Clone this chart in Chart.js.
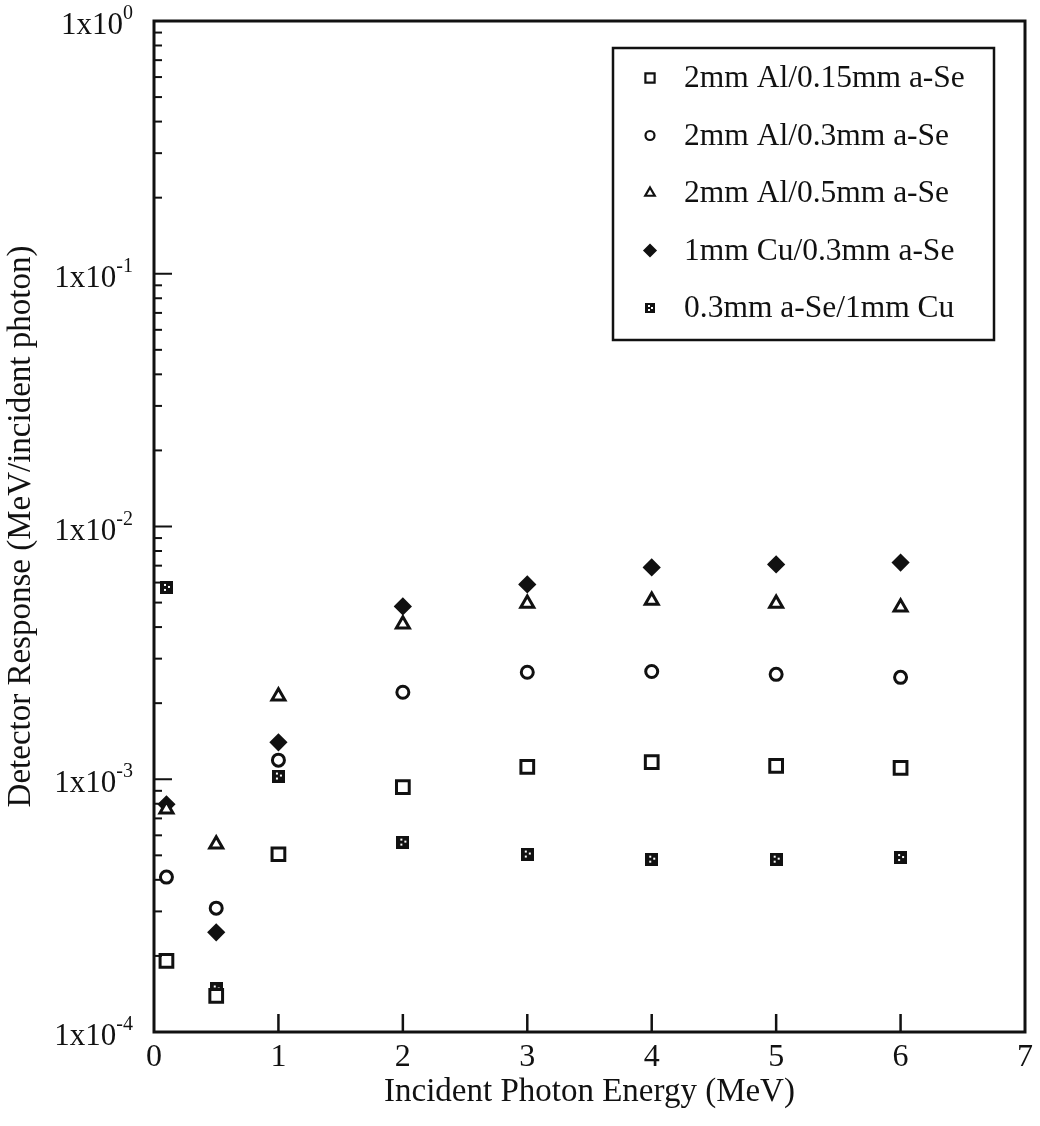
<!DOCTYPE html>
<html>
<head>
<meta charset="utf-8">
<title>Detector Response</title>
<script src="https://cdn.jsdelivr.net/npm/chart.js@4.4.0/dist/chart.umd.min.js"></script>
<style>
  html, body { margin: 0; padding: 0; background: #fff; }
  #wrap { width: 1040px; height: 1126px; }
</style>
</head>
<body>
<div id="wrap"><canvas id="respChart"></canvas></div>
<script>
// incident photon energies (MeV)
const energy = [0.1, 0.5, 1, 2, 3, 4, 5, 6];

// detector response (MeV / incident photon) for each detector build
const al2Se015 = [1.91e-4, 1.39e-4, 5.05e-4, 9.3e-4, 1.12e-3, 1.17e-3, 1.13e-3, 1.11e-3];
const al2Se03 = [4.1e-4, 3.09e-4, 1.19e-3, 2.21e-3, 2.65e-3, 2.67e-3, 2.6e-3, 2.53e-3];
const al2Se05 = [7.6e-4, 5.53e-4, 2.13e-3, 4.1e-3, 4.96e-3, 5.1e-3, 4.96e-3, 4.79e-3];
const cu1Se03 = [7.96e-4, 2.48e-4, 1.40e-3, 4.83e-3, 5.9e-3, 6.89e-3, 7.08e-3, 7.2e-3];
const se03Cu1 = [5.74e-3, 1.48e-4, 1.03e-3, 5.64e-4, 5.06e-4, 4.83e-4, 4.83e-4, 4.9e-4];

const seriesNames = [
  "2mm Al/0.15mm a-Se",
  "2mm Al/0.3mm a-Se",
  "2mm Al/0.5mm a-Se",
  "1mm Cu/0.3mm a-Se",
  "0.3mm a-Se/1mm Cu"
];

// decade labels on the y axis: 1x10^exp
const yExponents = [-4, -3, -2, -1, 0];

const SERIF = "'Liberation Serif', 'Times New Roman', serif";
const INK = "#111";

// dark square with a few light specks (a-Se/Cu series)
function speckledSquare(size) {
  const c = document.createElement("canvas");
  c.width = size;
  c.height = size;
  const g = c.getContext("2d");
  g.fillStyle = INK;
  g.fillRect(0, 0, size, size);
  g.fillStyle = "#fff";
  [[0.35, 0.32], [0.66, 0.45], [0.42, 0.7]].forEach(([u, v]) => {
    g.fillRect(Math.round(u * size) - 1, Math.round(v * size) - 1, 2, 2);
  });
  return c;
}

const markers = [
  { style: "rect", radius: 9, fill: "#fff", legendRadius: 6.5 },
  { style: "circle", radius: 6, fill: "#fff", legendRadius: 4.5 },
  { style: "triangle", radius: 7.5, fill: "#fff", legendRadius: 5.5 },
  { style: "rectRot", radius: 7, fill: INK, legendRadius: 5.5 },
  { style: speckledSquare(13), radius: 7, fill: INK, legendStyle: speckledSquare(10) }
];

const seriesValues = [al2Se015, al2Se03, al2Se05, cu1Se03, se03Cu1];

const datasets = seriesValues.map((vals, i) => ({
  label: seriesNames[i],
  data: energy.map((e, j) => ({ x: e, y: vals[j] })),
  pointStyle: markers[i].style,
  pointRadius: markers[i].radius,
  pointHoverRadius: markers[i].radius,
  pointBorderWidth: 3,
  borderColor: INK,
  backgroundColor: markers[i].fill,
  showLine: false
}));

// box around the plot plus inward tick marks
const framePlugin = {
  id: "frame",
  afterDatasetsDraw(chart) {
    const { ctx, chartArea: a, scales } = chart;
    const xs = scales.x;
    const ys = scales.y;
    ctx.save();
    ctx.strokeStyle = INK;
    ctx.lineCap = "butt";

    // y ticks: long at each decade, short in between
    ctx.lineWidth = 2;
    const lo = Math.round(Math.log10(ys.min));
    const hi = Math.round(Math.log10(ys.max));
    for (let e = lo; e < hi; e++) {
      for (let k = 1; k <= 9; k++) {
        const v = k * Math.pow(10, e);
        const py = ys.getPixelForValue(v);
        const len = k === 1 ? 18 : 8;
        ctx.beginPath();
        ctx.moveTo(a.left, py);
        ctx.lineTo(a.left + len, py);
        ctx.stroke();
      }
    }

    // x ticks pointing up from the bottom edge
    ctx.lineWidth = 2.5;
    xs.ticks.forEach((t) => {
      const px = xs.getPixelForValue(t.value);
      if (px <= a.left + 2 || px >= a.right - 2) return;
      ctx.beginPath();
      ctx.moveTo(px, a.bottom);
      ctx.lineTo(px, a.bottom - 18);
      ctx.stroke();
    });

    ctx.lineWidth = 3;
    ctx.strokeRect(a.left, a.top, a.right - a.left, a.bottom - a.top);

    // decade labels with superscript exponents
    ctx.fillStyle = INK;
    ctx.textBaseline = "alphabetic";
    yExponents.forEach((ex) => {
      const py = ys.getPixelForValue(Math.pow(10, ex));
      const right = a.left - 21;
      ctx.font = "20px " + SERIF;
      const sup = String(ex);
      const supW = ctx.measureText(sup).width;
      ctx.textAlign = "left";
      ctx.fillText(sup, right - supW, py - 2);
      ctx.font = "31px " + SERIF;
      ctx.textAlign = "right";
      ctx.fillText("1x10", right - supW, py + 13);
    });
    ctx.restore();
  }
};

// legend box in the upper right corner of the plot
const legendPlugin = {
  id: "boxLegend",
  afterDraw(chart) {
    const { ctx, chartArea: a } = chart;
    const left = a.left + 459;
    const top = a.top + 27;
    const w = 381;
    const h = 292;
    ctx.save();
    ctx.fillStyle = "#fff";
    ctx.fillRect(left, top, w, h);
    ctx.strokeStyle = INK;
    ctx.lineWidth = 2.5;
    ctx.strokeRect(left, top, w, h);

    chart.data.datasets.forEach((ds, i) => {
      const cy = top + 30 + i * 57.5;
      const mx = left + 37;
      const m = markers[i];
      ctx.strokeStyle = INK;
      ctx.fillStyle = m.fill;
      ctx.lineWidth = 2.2;
      if (m.legendStyle) {
        const img = m.legendStyle;
        ctx.drawImage(img, mx - img.width / 2, cy - img.height / 2);
      } else {
        Chart.helpers.drawPoint(ctx, {
          pointStyle: m.style,
          radius: m.legendRadius,
          borderWidth: 2.2,
          rotation: 0
        }, mx, cy);
      }
      ctx.fillStyle = INK;
      ctx.font = "31.5px " + SERIF;
      ctx.textAlign = "left";
      ctx.textBaseline = "middle";
      ctx.fillText(ds.label, left + 71, cy + 1);
    });
    ctx.restore();
  }
};

new Chart(document.getElementById("respChart"), {
  type: "scatter",
  data: { datasets },
  options: {
    responsive: true,
    maintainAspectRatio: false,
    animation: false,
    layout: { padding: { top: 21, right: 15, left: 0, bottom: 0 } },
    plugins: {
      legend: { display: false },
      tooltip: { enabled: false }
    },
    scales: {
      x: {
        type: "linear",
        min: 0,
        max: 7,
        grid: { display: false, drawTicks: false },
        border: { display: false },
        ticks: {
          stepSize: 1,
          padding: 6,
          color: INK,
          font: { family: SERIF, size: 32 }
        },
        title: {
          display: true,
          text: "Incident Photon Energy (MeV)",
          color: INK,
          font: { family: SERIF, size: 33 },
          padding: { top: 0, bottom: 14 }
        },
        afterFit(scale) { scale.height = 94; }
      },
      y: {
        type: "logarithmic",
        min: 1e-4,
        max: 1,
        grid: { display: false, drawTicks: false },
        border: { display: false },
        ticks: { display: false },
        title: {
          display: true,
          text: "Detector Response (MeV/incident photon)",
          color: INK,
          font: { family: SERIF, size: 33 },
          padding: { top: 2, bottom: 0 }
        },
        afterFit(scale) { scale.width = 154; }
      }
    }
  },
  plugins: [framePlugin, legendPlugin]
});
</script>
</body>
</html>
